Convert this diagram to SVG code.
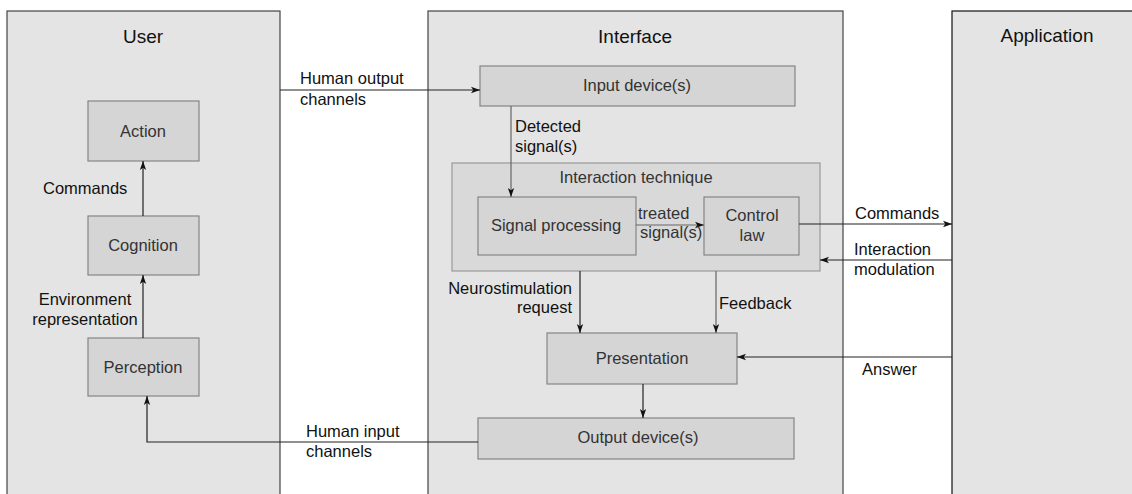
<svg xmlns="http://www.w3.org/2000/svg" width="1132" height="494" viewBox="0 0 1132 494">
<style>
text{font-family:"Liberation Sans",Arial,sans-serif;font-size:16.5px;fill:#111}
.title{font-size:19px;text-anchor:middle}
.panel{fill:#e4e4e4;stroke:#444;stroke-width:1.2}
.box{fill:#d5d5d5;stroke:#858585;stroke-width:1.2}
.tech{fill:#d9d9d9;stroke:#999;stroke-width:1.2}
.nt{fill:#333;text-anchor:middle}
.c{fill:none;stroke:#222;stroke-width:1.2}
.g{fill:none;stroke:#666;stroke-width:1.2}
.m{text-anchor:middle}
.e{text-anchor:end}
</style>
<defs>
<marker id="ah" viewBox="0 0 10 10" refX="10" refY="5" markerWidth="9" markerHeight="9" markerUnits="userSpaceOnUse" orient="auto">
<path d="M0,1.5 L10,5 L0,8.5 L2.5,5 z" fill="#111"/>
</marker>
</defs>
<rect width="1132" height="494" fill="#fff"/>

<g id="user">
<rect class="panel" x="7" y="11" width="273" height="500"/>
<text class="title" x="143" y="43">User</text>
</g>
<g id="interface">
<rect class="panel" x="428" y="11" width="415" height="500"/>
<text class="title" x="635" y="43">Interface</text>
</g>
<g id="application">
<rect class="panel" x="952" y="11" width="200" height="500" style="stroke:#111"/>
<text class="title" x="1047" y="42">Application</text>
</g>

<g id="action">
<rect class="box" x="88" y="101" width="111" height="60"/>
<text class="nt" x="143" y="137">Action</text>
</g>
<g id="cognition">
<rect class="box" x="88" y="216" width="111" height="59"/>
<text class="nt" x="143" y="251">Cognition</text>
</g>
<g id="perception">
<rect class="box" x="88" y="338" width="111" height="58"/>
<text class="nt" x="143" y="373">Perception</text>
</g>

<g id="input-device">
<rect class="box" x="480" y="66" width="315" height="40"/>
<text class="nt" x="637" y="91">Input device(s)</text>
</g>
<g id="interaction-technique">
<rect class="tech" x="452" y="163" width="368" height="108"/>
<text class="nt" x="636" y="183">Interaction technique</text>
</g>
<g id="signal-processing">
<rect class="box" x="478" y="197" width="158" height="58"/>
<text class="nt" x="556" y="231">Signal processing</text>
</g>
<g id="control-law">
<rect class="box" x="704" y="197" width="95" height="58"/>
<text class="nt" x="752" y="221">Control</text>
<text class="nt" x="752" y="241">law</text>
</g>
<g id="presentation">
<rect class="box" x="547" y="333" width="190" height="51"/>
<text class="nt" x="642" y="364">Presentation</text>
</g>
<g id="output-device">
<rect class="box" x="478" y="418" width="316" height="41"/>
<text class="nt" x="638" y="443">Output device(s)</text>
</g>

<g id="connectors">
<path class="c" d="M143,216 V161" marker-end="url(#ah)"/>
<path class="c" d="M143,338 V275" marker-end="url(#ah)"/>
<path class="c" d="M478,442 H147 V396" marker-end="url(#ah)"/>
<path class="c" d="M280,90 H480" marker-end="url(#ah)"/>
<path class="g" d="M511,106 V197" marker-end="url(#ah)"/>
<path class="g" d="M636,225 H704" marker-end="url(#ah)"/>
<path class="c" d="M799,224 H952" marker-end="url(#ah)"/>
<path class="c" d="M952,260 H820" marker-end="url(#ah)"/>
<path class="c" d="M580,271 V333" marker-end="url(#ah)"/>
<path class="g" d="M716,271 V333" marker-end="url(#ah)"/>
<path class="c" d="M952,357 H737" marker-end="url(#ah)"/>
<path class="c" d="M643,384 V418" marker-end="url(#ah)"/>

<text x="43" y="194">Commands</text>
<text class="m" x="85" y="305">Environment</text>
<text class="m" x="85" y="325">representation</text>
<text x="300" y="84">Human output</text>
<text x="300" y="105">channels</text>
<text x="306" y="437">Human input</text>
<text x="306" y="457">channels</text>
<text x="515" y="132">Detected</text>
<text x="515" y="152">signal(s)</text>
<text x="638" y="219" style="fill:#333">treated</text>
<text x="640" y="238" style="fill:#333">signal(s)</text>
<text x="855" y="219">Commands</text>
<text x="854" y="255">Interaction</text>
<text x="854" y="275">modulation</text>
<text class="e" x="572" y="294">Neurostimulation</text>
<text class="e" x="572" y="313">request</text>
<text x="719" y="309">Feedback</text>
<text x="862" y="375">Answer</text>
</g>
</svg>
